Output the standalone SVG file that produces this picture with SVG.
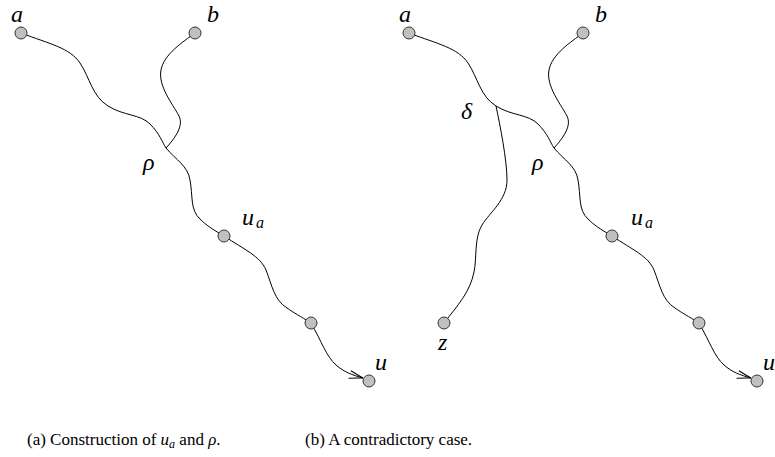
<svg xmlns="http://www.w3.org/2000/svg" width="775" height="457" viewBox="0 0 775 457">
<style>
.edge{fill:none;stroke:#000;stroke-width:1}
.node{fill:#c0c0c0;stroke:#333;stroke-width:1}
.math{font-family:"Liberation Serif",serif;font-style:italic;font-size:24px;fill:#000}
.sub{font-family:"Liberation Serif",serif;font-style:italic;font-size:16px;fill:#000}
.cap{font-family:"Liberation Serif",serif;font-size:17px;fill:#000}
</style>
<defs>
<marker id="arrow" markerUnits="userSpaceOnUse" viewBox="0 0 14 10" refX="14" refY="5" markerWidth="14" markerHeight="10" orient="auto">
<path d="M0,1 Q8,3.5 14,5 Q8,6.5 0,9" fill="none" stroke="#000" stroke-width="1"/>
</marker>
</defs>
<rect width="775" height="457" fill="#fff"/>

<g id="panel-a">
<g id="connectors-a">
<path class="edge" d="M21,33 C50,44 70,48 80,63 S92,96 108,106 S140,114 150,124 S162,142 166,148"/>
<path class="edge" d="M195,33 C183,42 164,54 161,70 C158,86 172,103 179,116 C184,126 175,138 166,148"/>
<path class="edge" d="M166,148 C176,160 188,166 190,180 C193,196 190,210 200,219 C206,225 212,229 224,236"/>
<path class="edge" d="M224,236 C245,250 260,256 266,270 C272,285 274,300 287,308 C294,313 300,316 311,323"/>
<path class="edge" marker-end="url(#arrow)" d="M311,323 C322,342 326,356 336,365 C344,372 352,375 363,378"/>
</g>
<g id="a-node-a"><circle class="node" cx="21" cy="33" r="6"/><text class="math" x="11" y="22">a</text></g>
<g id="a-node-b"><circle class="node" cx="195" cy="33" r="6"/><text class="math" x="207" y="22">b</text></g>
<g id="a-rho"><text class="math" x="143" y="170">ρ</text></g>
<g id="a-node-ua"><circle class="node" cx="224" cy="236" r="6"/><text class="math" x="242" y="225">u</text><text class="sub" x="256" y="228">a</text></g>
<g id="a-node-mid"><circle class="node" cx="311" cy="323" r="6"/></g>
<g id="a-node-u"><circle class="node" cx="369" cy="381" r="6"/><text class="math" x="375" y="370">u</text></g>
</g>

<g id="panel-b">
<g id="connectors-b">
<path class="edge" d="M409,33 C438,44 458,48 468,63 S480,96 496,106 S528,114 538,124 S550,142 554,148"/>
<path class="edge" d="M583,33 C571,42 552,54 549,70 C546,86 560,103 567,116 C572,126 563,138 554,148"/>
<path class="edge" d="M554,148 C564,160 576,166 578,180 C581,196 578,210 588,219 C594,225 600,229 612,236"/>
<path class="edge" d="M612,236 C633,250 648,256 654,270 C660,285 662,300 675,308 C682,313 688,316 699,323"/>
<path class="edge" marker-end="url(#arrow)" d="M699,323 C710,342 714,356 724,365 C732,372 740,375 751,378"/>
<path class="edge" d="M496,106 C500,125 507,160 507,180 C507,200 490,212 482,225 C474,238 477,258 474,272 C470,292 458,305 444,323"/>
</g>
<g id="b-node-a"><circle class="node" cx="409" cy="33" r="6"/><text class="math" x="399" y="22">a</text></g>
<g id="b-node-b"><circle class="node" cx="583" cy="33" r="6"/><text class="math" x="595" y="22">b</text></g>
<g id="b-delta"><text class="math" x="461" y="119">δ</text></g>
<g id="b-rho"><text class="math" x="532" y="170">ρ</text></g>
<g id="b-node-ua"><circle class="node" cx="612" cy="236" r="6"/><text class="math" x="631" y="225">u</text><text class="sub" x="645" y="228">a</text></g>
<g id="b-node-mid"><circle class="node" cx="699" cy="323" r="6"/></g>
<g id="b-node-u"><circle class="node" cx="757" cy="381" r="6"/><text class="math" x="763" y="370">u</text></g>
<g id="b-node-z"><circle class="node" cx="444" cy="323" r="6"/><text class="math" x="438" y="350">z</text></g>
</g>

<g id="captions">
<text class="cap" x="27" y="445">(a) Construction of <tspan font-style="italic">u</tspan><tspan font-style="italic" font-size="12" dy="3">a</tspan><tspan dy="-3"> and </tspan><tspan font-style="italic">ρ</tspan>.</text>
<text class="cap" x="305" y="445">(b) A contradictory case.</text>
</g>
</svg>
